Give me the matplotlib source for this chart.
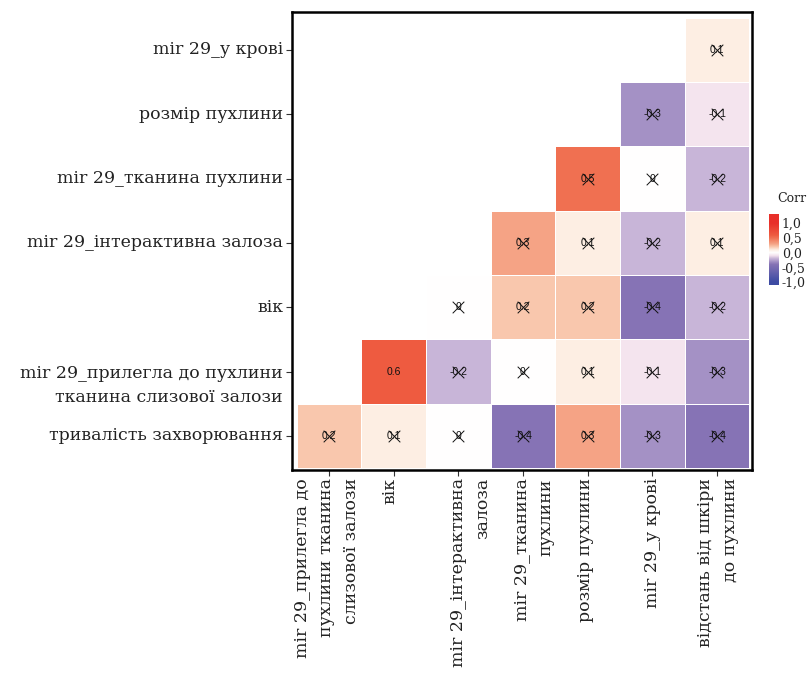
import numpy as np
import matplotlib
matplotlib.use("Agg")
import matplotlib.pyplot as plt
from matplotlib.colors import LinearSegmentedColormap, Normalize
from matplotlib.transforms import ScaledTranslation, blended_transform_factory

# row labels (bottom to top)
y_labels = [
    "тривалість захворювання",
    "mir 29_прилегла до пухлини\nтканина слизової залози",
    "вік",
    "mir 29_інтерактивна залоза",
    "mir 29_тканина пухлини",
    "розмір пухлини",
    "mir 29_у крові",
]
y_shift = [0, -14, 0, 0, 0, 0, 0]   # px, two-line label hangs below its tick

# column labels (left to right), wrapped like the original
x_labels = [
    "mir 29_прилегла до\nпухлини тканина\nслизової залози",
    "вік",
    "mir 29_інтерактивна\nзалоза",
    "mir 29_тканина\nпухлини",
    "розмір пухлини",
    "mir 29_у крові",
    "відстань від шкіри\nдо пухлини",
]
x_shift = [-2, -4, 12, 11, -2, 0, 1]

# lower triangle: row = y_labels[i], column = x_labels[j]
nan = np.nan
corr = np.array([
    [0.2, 0.1, 0.0, -0.4, 0.3, -0.3, -0.4],
    [nan, 0.6, -0.2, 0.0, 0.1, -0.1, -0.3],
    [nan, nan, 0.0, 0.2, 0.2, -0.4, -0.2],
    [nan, nan, nan, 0.3, 0.1, -0.2, 0.1],
    [nan, nan, nan, nan, 0.5, 0.0, -0.2],
    [nan, nan, nan, nan, nan, -0.3, -0.1],
    [nan, nan, nan, nan, nan, nan, 0.1],
])
significant = np.zeros(corr.shape, dtype=bool)
significant[1, 1] = True

# colour scale
cmap = LinearSegmentedColormap.from_list("corr", [
    (0.00, "#3d4ba3"),
    (0.30, "#8673b5"),
    (0.35, "#a592c5"),
    (0.40, "#c8b5d8"),
    (0.45, "#f4e3ee"),
    (0.50, "#ffffff"),
    (0.55, "#fdeee2"),
    (0.60, "#f9c7ad"),
    (0.65, "#f5a385"),
    (0.75, "#f07152"),
    (0.80, "#ee5b40"),
    (1.00, "#e8302a"),
])
norm = Normalize(-1, 1)

W, H = 807, 674
fig = plt.figure(figsize=(W / 100, H / 100), dpi=100)
ax = fig.add_axes([292 / W, 1 - 470 / H, 460 / W, 458 / H])

def px(dx, dy):
    return ScaledTranslation(dx / 100, dy / 100, fig.dpi_scale_trans)

n_rows, n_cols = corr.shape
xe = np.arange(n_cols + 1) + 0.5
ye = np.arange(n_rows + 1) + 0.5
ax.pcolormesh(xe, ye, np.ma.masked_invalid(corr), cmap=cmap, norm=norm,
              edgecolors="#ffffff", linewidth=0.5)

for i in range(n_rows):
    for j in range(n_cols):
        v = corr[i, j]
        if np.isnan(v):
            continue
        txt = "0" if v == 0 else f"{v:.1f}"
        ax.text(j + 1, i + 1, txt, ha="center", va="center", fontsize=7.5,
                family="Liberation Sans", color="#111111")
        if not significant[i, j]:
            ax.scatter(j + 1, i + 1, marker="x", s=70, linewidths=0.7,
                       color="#111111", zorder=3)

ax.set_xlim(0.43, 7.54)
ax.set_ylim(0.47, 7.59)

ax.set_xticks(np.arange(1, n_cols + 1))
ax.set_yticks(np.arange(1, n_rows + 1))
ax.set_xticklabels([])
ax.set_yticklabels([])
ax.tick_params(length=4, width=0.8, color="#333333")
for s in ax.spines.values():
    s.set_linewidth(1.8)
    s.set_color("black")

lab_font = dict(family="DejaVu Serif", fontsize=12.5, color="#222222",
                linespacing=1.55)
xt = blended_transform_factory(ax.transData, ax.transAxes)
for j, (lab, dx) in enumerate(zip(x_labels, x_shift)):
    ax.text(j + 1, 0, lab, transform=xt + px(dx, -8), rotation=90,
            rotation_mode="anchor", ha="right", va="center",
            multialignment="right", **lab_font)
yt = blended_transform_factory(ax.transAxes, ax.transData)
for i, (lab, dy) in enumerate(zip(y_labels, y_shift)):
    ax.text(0, i + 1, lab, transform=yt + px(-9, dy), ha="right",
            va="center", multialignment="right", **lab_font)

# legend bar
lo, hi = -1.1, 1.31
cax = fig.add_axes([769 / W, 1 - 285 / H, 10 / W, 71 / H])
grad = np.linspace(lo, hi, 256)[:, None]
cax.imshow(grad, cmap=cmap, norm=norm, aspect="auto", origin="lower",
           extent=[0, 1, lo, hi])
cax.set_xticks([])
cax.yaxis.tick_right()
cax.set_yticks([-1, -0.5, 0, 0.5, 1])
cax.set_yticklabels(["-1,0", "-0,5", "0,0", "0,5", "1,0"],
                    family="DejaVu Serif", fontsize=9, color="#222222")
cax.tick_params(axis="y", length=0, pad=2)
for s in cax.spines.values():
    s.set_visible(False)
fig.text(777 / W, 1 - 198 / H, "Corr", family="DejaVu Serif", fontsize=9,
         color="#222222", ha="left", va="center")

fig.savefig("out.png", dpi=100)
